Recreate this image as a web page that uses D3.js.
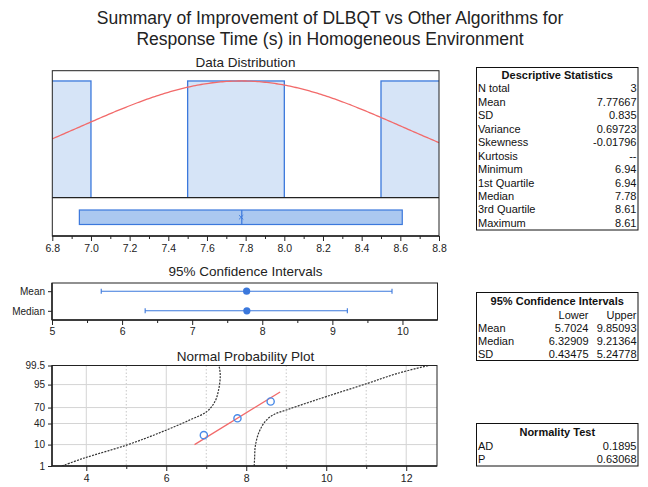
<!DOCTYPE html>
<html>
<head>
<meta charset="utf-8">
<script src="https://cdn.jsdelivr.net/npm/d3@7"></script>
<style>
  body { margin: 0; background: #fff; }
  svg { display: block; font-family: "Liberation Sans", Arial, sans-serif; }
</style>
</head>
<body>
<svg id="chart" width="648" height="487"></svg>
<script>
// ---- data ----
const titleLines = [
  "Summary of Improvement of DLBQT vs Other Algorithms for",
  "Response Time (s) in Homogeneous Environment"
];
const responseTimes = [6.94, 7.78, 8.61];
const binThresholds = [6.5, 7.0, 7.5, 8.0, 8.5, 9.0];
const distTicks = [6.8, 7.0, 7.2, 7.4, 7.6, 7.8, 8.0, 8.2, 8.4, 8.6, 8.8];
const meanValue = 7.77667;
const sdValue = 0.835;
const boxQ1 = 6.94, boxMedian = 7.78, boxQ3 = 8.61;

const descLabels = ["N total", "Mean", "SD", "Variance", "Skewness", "Kurtosis",
  "Minimum", "1st Quartile", "Median", "3rd Quartile", "Maximum"];
const descValues = ["3", "7.77667", "0.835", "0.69723", "-0.01796", "--",
  "6.94", "6.94", "7.78", "8.61", "8.61"];

const ciCategories = ["Mean", "Median"];
const ciCenters = [7.77667, 7.78];
const ciLower = [5.7024, 6.32909];
const ciUpper = [9.85093, 9.21364];
const ciTicks = [5, 6, 7, 8, 9, 10];

const ciTableRows = ["Mean", "Median", "SD"];
const ciTableLower = ["5.7024", "6.32909", "0.43475"];
const ciTableUpper = ["9.85093", "9.21364", "5.24778"];

const normLabels = ["AD", "P"];
const normValues = ["0.1895", "0.63068"];

const probTicks = [1, 10, 40, 70, 95, 99.5];
const probXTicks = [4, 6, 8, 10, 12];
const probXMinor = [5, 7, 9, 11];
const probPercents = [20.6, 50, 79.4];
const fitRange = [10, 90];
// lower / upper confidence bands (x, cumulative percent)
const bandLeftX = [3.39, 3.93, 5.02, 5.85, 6.60, 7.02, 7.22, 7.31, 7.35, 7.33, 7.31];
const bandLeftP = [1.0, 2.56, 9.7, 24.4, 47.2, 63.2, 79.6, 91.9, 98.0, 99.3, 99.5];
const bandRightX = [8.20, 8.21, 8.225, 8.31, 8.475, 8.68, 9.02, 9.52, 10.02, 11.02, 11.77, 12.56];
const bandRightP = [1.0, 3.0, 8.4, 23.5, 43.9, 56.9, 66.2, 77.3, 85.8, 95.5, 98.55, 99.5];

// ---- colours ----
const blue = "#3b78dc";
const barFill = "#d6e4f7";
const boxFill = "#abc8f0";
const red = "#f26a6a";
const ink = "#222";

const svg = d3.select("#chart");

// inverse standard normal CDF (Acklam)
function probit(p) {
  const a = [-3.969683028665376e+01, 2.209460984245205e+02, -2.759285104469687e+02, 1.383577518672690e+02, -3.066479806614716e+01, 2.506628277459239e+00];
  const b = [-5.447609879822406e+01, 1.615858368580409e+02, -1.556989798598866e+02, 6.680131188771972e+01, -1.328068155288572e+01];
  const c = [-7.784894002430293e-03, -3.223964580411365e-01, -2.400758277161838e+00, -2.549732539343734e+00, 4.374664141464968e+00, 2.938163982698783e+00];
  const d = [7.784695709041462e-03, 3.224671290700398e-01, 2.445134137142996e+00, 3.754408661907416e+00];
  const pl = 0.02425, ph = 1 - pl;
  let q, r;
  if (p < pl) {
    q = Math.sqrt(-2 * Math.log(p));
    return (((((c[0]*q+c[1])*q+c[2])*q+c[3])*q+c[4])*q+c[5]) / ((((d[0]*q+d[1])*q+d[2])*q+d[3])*q+1);
  }
  if (p > ph) {
    q = Math.sqrt(-2 * Math.log(1 - p));
    return -(((((c[0]*q+c[1])*q+c[2])*q+c[3])*q+c[4])*q+c[5]) / ((((d[0]*q+d[1])*q+d[2])*q+d[3])*q+1);
  }
  q = p - 0.5; r = q * q;
  return (((((a[0]*r+a[1])*r+a[2])*r+a[3])*r+a[4])*r+a[5])*q / (((((b[0]*r+b[1])*r+b[2])*r+b[3])*r+b[4])*r+1);
}

// ---- main title ----
svg.append("g").selectAll("text").data(titleLines).join("text")
  .attr("x", 330).attr("y", (d, i) => 24 + i * 21)
  .attr("text-anchor", "middle").attr("font-size", 17.5).attr("fill", ink)
  .text(d => d);

function panelTitle(text, x, y) {
  svg.append("text").attr("x", x).attr("y", y).attr("text-anchor", "middle")
    .attr("font-size", 13.5).attr("fill", ink).text(text);
}

function styleAxis(g, fontSize) {
  g.select(".domain").remove();
  g.selectAll(".tick line").attr("stroke", ink);
  g.selectAll(".tick text").attr("fill", ink).attr("font-size", fontSize)
    .attr("font-family", "Liberation Sans, Arial, sans-serif");
}

// ================= Data Distribution =================
const dd = { left: 52.3, right: 439, top: 70.7, histBottom: 197.7, bottom: 236 };
panelTitle("Data Distribution", 245.5, 66.5);

const xDist = d3.scaleLinear().domain([6.8, 8.8]).range([dd.left, dd.right]);
const bins = d3.bin().domain([binThresholds[0], binThresholds[binThresholds.length - 1]])
  .thresholds(binThresholds.slice(1, -1))(responseTimes);
const maxCount = d3.max(bins, b => b.length);
const yHist = d3.scaleLinear().domain([0, maxCount * 1.088]).range([dd.histBottom, dd.top]);

svg.append("clipPath").attr("id", "histClip").append("rect")
  .attr("x", dd.left).attr("y", dd.top).attr("width", dd.right - dd.left).attr("height", dd.histBottom - dd.top);

const hist = svg.append("g").attr("clip-path", "url(#histClip)");
hist.selectAll("rect").data(bins.filter(b => b.length > 0)).join("rect")
  .attr("x", b => xDist(b.x0)).attr("width", b => xDist(b.x1) - xDist(b.x0))
  .attr("y", b => yHist(b.length)).attr("height", b => dd.histBottom - yHist(b.length))
  .attr("fill", barFill).attr("stroke", blue).attr("stroke-width", 1.3);

// fitted normal curve, scaled to the tallest bin
const curveXs = d3.range(6.8, 8.8001, 0.01);
const normalLine = d3.line()
  .x(v => xDist(v))
  .y(v => yHist(maxCount * Math.exp(-0.5 * Math.pow((v - meanValue) / sdValue, 2))));
hist.append("path").datum(curveXs).attr("d", normalLine)
  .attr("fill", "none").attr("stroke", red).attr("stroke-width", 1.3);

// box plot strip
const boxTop = 210, boxBot = 224.5;
svg.append("rect").attr("x", xDist(boxQ1)).attr("y", boxTop)
  .attr("width", xDist(boxQ3) - xDist(boxQ1)).attr("height", boxBot - boxTop)
  .attr("fill", boxFill).attr("stroke", blue).attr("stroke-width", 1.2);
svg.append("line").attr("x1", xDist(boxMedian)).attr("x2", xDist(boxMedian))
  .attr("y1", boxTop).attr("y2", boxBot).attr("stroke", blue).attr("stroke-width", 1.2);
svg.append("path").attr("d", d3.symbol(d3.symbolX, 14)())
  .attr("transform", `translate(${xDist(meanValue)},${(boxTop + boxBot) / 2})`)
  .attr("fill", "none").attr("stroke", blue).attr("stroke-width", 0.9);

// frame and divider
svg.append("rect").attr("x", dd.left).attr("y", dd.top)
  .attr("width", dd.right - dd.left).attr("height", dd.bottom - dd.top)
  .attr("fill", "none").attr("stroke", ink).attr("stroke-width", 1);
svg.append("line").attr("x1", dd.left).attr("x2", dd.right)
  .attr("y1", dd.histBottom).attr("y2", dd.histBottom).attr("stroke", ink).attr("stroke-width", 1.2);

const distMinor = d3.range(6.9, 8.8, 0.2);
svg.append("g").attr("transform", `translate(0,${dd.bottom})`)
  .call(d3.axisBottom(xDist).tickValues(distMinor).tickSize(3).tickFormat(""))
  .call(g => styleAxis(g, 10.5));
svg.append("g").attr("transform", `translate(0,${dd.bottom})`)
  .call(d3.axisBottom(xDist).tickValues(distTicks).tickSize(5).tickPadding(4).tickFormat(d3.format(".1f")))
  .call(g => styleAxis(g, 10.5));
svg.append("line").attr("x1", dd.left).attr("x2", dd.right).attr("y1", dd.bottom).attr("y2", dd.bottom)
  .attr("stroke", ink).attr("stroke-width", 1.5);

// ================= 95% Confidence Intervals =================
const ci = { left: 52, right: 437.5, top: 283, bottom: 320 };
panelTitle("95% Confidence Intervals", 245.5, 276);
const xCI = d3.scaleLinear().domain([5, 10.5]).range([ci.left, ci.right]);
const yCI = d3.scalePoint().domain(ciCategories).range([291.2, 310.8]);

svg.append("rect").attr("x", ci.left).attr("y", ci.top)
  .attr("width", ci.right - ci.left).attr("height", ci.bottom - ci.top)
  .attr("fill", "none").attr("stroke", ink).attr("stroke-width", 1);

const ciRows = ciCategories.map((c, i) => ({ cat: c, lo: ciLower[i], hi: ciUpper[i], mid: ciCenters[i] }));
const ciG = svg.append("g");
ciG.selectAll("line.bar").data(ciRows).join("line").attr("class", "bar")
  .attr("x1", d => xCI(d.lo)).attr("x2", d => xCI(d.hi))
  .attr("y1", d => yCI(d.cat)).attr("y2", d => yCI(d.cat))
  .attr("stroke", blue).attr("stroke-width", 1.1);
["lo", "hi"].forEach(k => {
  ciG.selectAll("line.cap" + k).data(ciRows).join("line").attr("class", "cap" + k)
    .attr("x1", d => xCI(d[k])).attr("x2", d => xCI(d[k]))
    .attr("y1", d => yCI(d.cat) - 2.5).attr("y2", d => yCI(d.cat) + 2.5)
    .attr("stroke", blue).attr("stroke-width", 1.1);
});
ciG.selectAll("circle").data(ciRows).join("circle")
  .attr("cx", d => xCI(d.mid)).attr("cy", d => yCI(d.cat)).attr("r", 3.6)
  .attr("fill", blue);

svg.append("g").attr("transform", `translate(${ci.left},0)`)
  .call(d3.axisLeft(yCI).tickSize(4).tickPadding(3))
  .call(g => styleAxis(g, 10));
svg.append("g").attr("transform", `translate(0,${ci.bottom})`)
  .call(d3.axisBottom(xCI).tickValues(d3.range(5.5, 10.5, 1)).tickSize(3).tickFormat(""))
  .call(g => styleAxis(g, 10.5));
svg.append("g").attr("transform", `translate(0,${ci.bottom})`)
  .call(d3.axisBottom(xCI).tickValues(ciTicks).tickSize(5).tickPadding(3).tickFormat(d3.format("d")))
  .call(g => styleAxis(g, 10.5));
svg.append("line").attr("x1", ci.left).attr("x2", ci.right).attr("y1", ci.bottom).attr("y2", ci.bottom)
  .attr("stroke", ink).attr("stroke-width", 1.5);
svg.append("line").attr("x1", ci.left).attr("x2", ci.left).attr("y1", ci.top).attr("y2", ci.bottom)
  .attr("stroke", ink).attr("stroke-width", 1.5);

// ================= Normal Probability Plot =================
const np = { left: 52, right: 437, top: 365.5, bottom: 466 };
panelTitle("Normal Probability Plot", 245.5, 360.5);
const xNP = d3.scaleLinear().domain([3.1425, 12.77]).range([np.left, np.right]);
const zNP = d3.scaleLinear().domain([probit(0.01), probit(0.995)]).range([np.bottom, np.top]);
const yNP = p => zNP(probit(p / 100));

const grid = svg.append("g");
grid.selectAll("line.vmaj").data(probXTicks).join("line").attr("class", "vmaj")
  .attr("x1", d => xNP(d)).attr("x2", d => xNP(d)).attr("y1", np.top).attr("y2", np.bottom)
  .attr("stroke", "#d4d4d4").attr("stroke-width", 1);
grid.selectAll("line.vmin").data(probXMinor).join("line").attr("class", "vmin")
  .attr("x1", d => xNP(d)).attr("x2", d => xNP(d)).attr("y1", np.top).attr("y2", np.bottom)
  .attr("stroke", "#c8c8c8").attr("stroke-width", 1).attr("stroke-dasharray", "1.5,2");
grid.selectAll("line.h").data(probTicks).join("line").attr("class", "h")
  .attr("x1", np.left).attr("x2", np.right).attr("y1", d => yNP(d)).attr("y2", d => yNP(d))
  .attr("stroke", "#d4d4d4").attr("stroke-width", 1);

svg.append("clipPath").attr("id", "npClip").append("rect")
  .attr("x", np.left).attr("y", np.top).attr("width", np.right - np.left).attr("height", np.bottom - np.top);
const npG = svg.append("g").attr("clip-path", "url(#npClip)");

const bandLine = d3.line().x(d => xNP(d[0])).y(d => yNP(d[1])).curve(d3.curveCatmullRom);
[[bandLeftX, bandLeftP], [bandRightX, bandRightP]].forEach(([xs, ps]) => {
  npG.append("path").datum(xs.map((x, i) => [x, ps[i]])).attr("d", bandLine)
    .attr("fill", "none").attr("stroke", "#333").attr("stroke-width", 1.2)
    .attr("stroke-dasharray", "2,1.2");
});

// fitted line x = mean + sd * z
const fitPts = fitRange.map(p => [meanValue + sdValue * probit(p / 100), p]);
npG.append("path").datum(fitPts)
  .attr("d", d3.line().x(d => xNP(d[0])).y(d => yNP(d[1])))
  .attr("stroke", red).attr("stroke-width", 1.3).attr("fill", "none");

npG.selectAll("circle").data(responseTimes.map((v, i) => [v, probPercents[i]])).join("circle")
  .attr("cx", d => xNP(d[0])).attr("cy", d => yNP(d[1])).attr("r", 3.6)
  .attr("fill", "none").attr("stroke", "#4a8be8").attr("stroke-width", 1.4);

svg.append("rect").attr("x", np.left).attr("y", np.top)
  .attr("width", np.right - np.left).attr("height", np.bottom - np.top)
  .attr("fill", "none").attr("stroke", ink).attr("stroke-width", 1);

const yAxisNP = d3.scaleLinear().domain(zNP.domain()).range(zNP.range());
svg.append("g").attr("transform", `translate(${np.left},0)`)
  .call(d3.axisLeft(yAxisNP).tickValues(probTicks.map(p => probit(p / 100)))
    .tickFormat((z, i) => String(probTicks[i])).tickSize(4).tickPadding(3))
  .call(g => styleAxis(g, 10));
svg.append("g").attr("transform", `translate(0,${np.bottom})`)
  .call(d3.axisBottom(xNP).tickValues(probXMinor).tickSize(3).tickFormat(""))
  .call(g => styleAxis(g, 10.5));
svg.append("g").attr("transform", `translate(0,${np.bottom})`)
  .call(d3.axisBottom(xNP).tickValues(probXTicks).tickSize(5).tickPadding(4).tickFormat(d3.format("d")))
  .call(g => styleAxis(g, 10.5));
svg.append("line").attr("x1", np.left).attr("x2", np.right).attr("y1", np.bottom).attr("y2", np.bottom)
  .attr("stroke", ink).attr("stroke-width", 1.5);
svg.append("line").attr("x1", np.left).attr("x2", np.left).attr("y1", np.top).attr("y2", np.bottom)
  .attr("stroke", ink).attr("stroke-width", 1.5);

// ================= tables =================
const tabLeft = 476.5, tabRight = 638, tabText = 478, tabValRight = 636.5;
function tableBox(y0, y1) {
  svg.append("rect").attr("x", tabLeft).attr("y", y0).attr("width", tabRight - tabLeft)
    .attr("height", y1 - y0).attr("fill", "none").attr("stroke", "#111").attr("stroke-width", 1);
}
function tableTitle(text, y) {
  svg.append("text").attr("x", (tabLeft + tabRight) / 2).attr("y", y).attr("dy", "0.35em")
    .attr("text-anchor", "middle").attr("font-size", 11).attr("font-weight", "bold")
    .attr("fill", "#111").text(text);
}
function tableCells(texts, x, ys, anchor) {
  const g = svg.append("g");
  g.selectAll("text").data(texts).join("text")
    .attr("x", x).attr("y", (d, i) => ys[i]).attr("dy", "0.35em")
    .attr("text-anchor", anchor).attr("font-size", 11).attr("fill", "#111").text(d => d);
}

// Descriptive Statistics
tableBox(67.5, 230);
tableTitle("Descriptive Statistics", 75);
const descYs = descLabels.map((_, i) => 88.5 + i * 13.45);
tableCells(descLabels, tabText, descYs, "start");
tableCells(descValues, tabValRight, descYs, "end");

// 95% Confidence Intervals
tableBox(292.5, 360.5);
tableTitle("95% Confidence Intervals", 301.5);
tableCells(["Lower"], 588.5, [315], "end");
tableCells(["Upper"], tabValRight, [315], "end");
const ciYs = ciTableRows.map((_, i) => 328.5 + i * 13);
tableCells(ciTableRows, tabText, ciYs, "start");
tableCells(ciTableLower, 588.5, ciYs, "end");
tableCells(ciTableUpper, tabValRight, ciYs, "end");

// Normality Test
tableBox(423.5, 466);
tableTitle("Normality Test", 432.5);
const normYs = [446.5, 459];
tableCells(normLabels, tabText, normYs, "start");
tableCells(normValues, tabValRight, normYs, "end");
</script>
</body>
</html>
